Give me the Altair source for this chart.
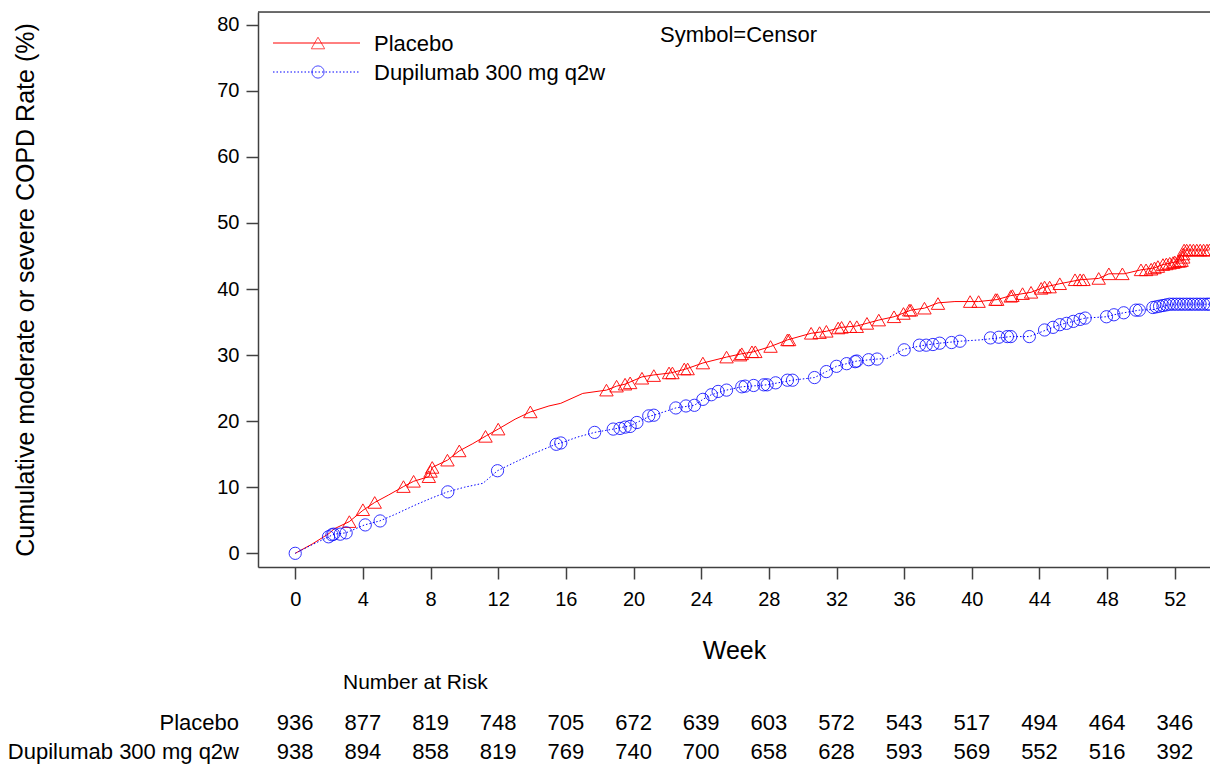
import altair as alt
import pandas as pd

# Kaplan-Meier style cumulative event curves (week, cumulative rate %)
placebo_weeks = [0, 1.0, 2.0, 2.3, 3.2, 4.0, 4.7, 5.5, 6.4, 7.0, 7.9, 8.1, 9.0, 9.7,
                 10.5, 11.3, 12.0, 13.0, 13.9, 15.0, 15.7, 17.0, 18.4, 19.0, 19.5,
                 20.5, 21.2, 22.2, 23.1, 24.1, 25.5, 26.4, 27.1, 28.1, 29.1, 30.5,
                 31.4, 32.3, 33.2, 34.5, 35.4, 36.4, 37.2, 38.0, 39.0, 40.4, 41.5,
                 42.3, 43.5, 44.3, 45.2, 46.4, 47.5, 48.1, 49.0, 50.0, 50.8, 51.3,
                 51.7, 52.2, 52.5, 52.55, 54.05]
placebo_rate = [0, 1.4, 3.0, 3.7, 4.8, 6.5, 7.7, 8.8, 10.1, 10.9, 11.6, 13.0, 14.1, 15.5,
                16.6, 17.8, 18.8, 20.3, 21.4, 22.3, 22.7, 24.2, 24.7, 25.3, 25.6,
                26.7, 27.0, 27.3, 27.9, 28.8, 29.7, 30.2, 30.5, 31.3, 32.3, 33.3,
                33.6, 34.2, 34.4, 35.3, 35.8, 36.8, 37.1, 37.9, 38.1, 38.1, 38.4,
                39.0, 39.5, 40.3, 40.8, 41.4, 41.6, 42.3, 42.3, 42.9, 43.2, 43.7,
                43.9, 44.2, 44.3, 45.9, 45.9]

dupi_weeks = [0, 1.0, 1.97, 2.3, 3.0, 4.1, 5.0, 6.0, 7.0, 8.0, 9.0, 10.0, 11.1, 11.96,
              13.0, 14.0, 15.4, 15.7, 16.7, 17.7, 18.8, 19.8, 20.2, 21.0, 21.2, 22.5,
              23.6, 24.1, 24.6, 25.5, 26.4, 27.9, 29.4, 30.7, 31.4, 32.0, 32.6, 33.2,
              34.4, 35.0, 36.0, 37.2, 38.1, 39.3, 40.5, 41.6, 42.3, 43.4, 44.4, 45.2,
              46.0, 46.7, 47.96, 48.4, 48.98, 49.9, 50.8, 51.2, 51.6, 52.0, 54.05]
dupi_rate = [0, 1.3, 2.5, 2.9, 3.1, 4.3, 4.9, 6.0, 7.2, 8.3, 9.3, 10.0, 10.6, 12.5,
             13.8, 15.0, 16.5, 16.7, 17.6, 18.3, 18.8, 19.3, 19.8, 20.8, 20.9, 22.0,
             22.4, 23.3, 24.0, 24.7, 25.2, 25.5, 26.2, 26.6, 27.5, 28.3, 28.7, 29.1,
             29.4, 29.5, 30.9, 31.5, 31.8, 32.1, 32.3, 32.6, 32.8, 32.8, 33.8, 34.6,
             35.1, 35.6, 35.8, 36.1, 36.4, 36.8, 36.9, 37.3, 37.6, 37.7, 37.7]

# Censored observations
placebo_cens_weeks = [3.2, 4.0, 4.7, 6.4, 7.0, 7.9, 8.0, 8.1, 9.0, 9.7, 11.25, 12.0, 13.9,
                      18.4, 19.0, 19.5, 19.8, 20.5, 21.2, 22.1, 22.3, 23.0, 23.2, 24.1,
                      25.5, 26.3, 26.4, 27.0, 27.2, 28.1, 29.1, 29.2, 30.5, 31.0, 31.4,
                      32.1, 32.3, 32.8, 33.2, 33.8, 34.5, 35.4, 35.96, 36.3, 36.4, 37.2,
                      38.0, 39.9, 40.4, 41.4, 41.5, 42.3, 42.4, 43.0, 43.5, 44.1, 44.3,
                      44.6, 45.2, 46.1, 46.4, 46.6, 47.5, 48.1, 48.9, 50.0, 50.3, 50.6,
                      50.8, 51.0, 51.3, 51.5, 51.7, 51.9, 52.0, 52.2, 52.3, 52.4, 52.5,
                      52.5, 52.55, 52.7, 52.9, 53.1, 53.3, 53.5, 53.7, 53.9, 54.05]
placebo_cens_rate = [4.8, 6.6, 7.7, 10.1, 10.9, 11.6, 12.4, 13.0, 14.1, 15.5, 17.7, 18.8, 21.4,
                     24.7, 25.3, 25.6, 25.8, 26.5, 26.9, 27.3, 27.3, 27.9, 27.9, 28.8,
                     29.7, 30.0, 30.2, 30.5, 30.5, 31.3, 32.3, 32.3, 33.3, 33.4, 33.6,
                     34.1, 34.2, 34.3, 34.3, 34.8, 35.3, 35.8, 36.3, 36.8, 36.8, 37.1,
                     37.8, 38.1, 38.1, 38.4, 38.4, 38.9, 39.0, 39.3, 39.5, 40.1, 40.3,
                     40.3, 40.8, 41.4, 41.4, 41.4, 41.6, 42.3, 42.3, 42.9, 42.9, 43.0,
                     43.2, 43.4, 43.7, 43.8, 43.9, 44.0, 44.1, 44.2, 44.2, 44.3, 44.8,
                     45.3, 45.9, 45.9, 45.9, 45.9, 45.9, 45.9, 45.9, 45.9, 45.9]

dupi_cens_weeks = [0, 1.97, 2.17, 2.27, 2.66, 3.01, 4.14, 5.02, 9.02, 11.96, 15.43, 15.7,
                   17.7, 18.8, 19.2, 19.5, 19.8, 20.2, 20.9, 21.2, 22.5, 23.1, 23.6, 24.1,
                   24.6, 25.0, 25.5, 26.4, 26.6, 27.1, 27.7, 27.9, 28.4, 29.1, 29.4, 30.7,
                   31.4, 32.0, 32.6, 33.1, 33.2, 33.9, 34.4, 36.0, 36.9, 37.3, 37.7, 38.1,
                   38.8, 39.3, 41.1, 41.6, 42.1, 42.3, 43.4, 44.3, 44.8, 45.2, 45.6, 46.0,
                   46.4, 46.7, 47.96, 48.4, 48.98, 49.7, 49.9, 50.7, 50.9, 51.1, 51.3,
                   51.5, 51.7, 51.9, 52.1, 52.3, 52.5, 52.7, 52.9, 53.1, 53.3, 53.5, 53.7,
                   53.9, 54.05]
dupi_cens_rate = [0, 2.5, 2.8, 2.9, 2.9, 3.1, 4.3, 4.9, 9.3, 12.5, 16.5, 16.7,
                  18.3, 18.8, 18.9, 19.1, 19.2, 19.8, 20.8, 20.9, 22.0, 22.3, 22.4, 23.3,
                  24.0, 24.5, 24.7, 25.2, 25.3, 25.4, 25.5, 25.5, 25.8, 26.2, 26.2, 26.6,
                  27.5, 28.3, 28.7, 29.0, 29.1, 29.3, 29.4, 30.8, 31.5, 31.5, 31.6, 31.8,
                  31.9, 32.1, 32.6, 32.7, 32.8, 32.8, 32.8, 33.8, 34.2, 34.6, 34.8, 35.1,
                  35.4, 35.6, 35.8, 36.1, 36.4, 36.8, 36.8, 37.2, 37.3, 37.4, 37.5,
                  37.6, 37.7, 37.7, 37.7, 37.7, 37.7, 37.7, 37.7, 37.7, 37.7, 37.7, 37.7,
                  37.7, 37.7]

# Number at risk table
risk_weeks = [0, 4, 8, 12, 16, 20, 24, 28, 32, 36, 40, 44, 48, 52]
placebo_risk = [936, 877, 819, 748, 705, 672, 639, 603, 572, 543, 517, 494, 464, 346]
dupi_risk = [938, 894, 858, 819, 769, 740, 700, 658, 628, 593, 569, 552, 516, 392]

group_names = ["Placebo", "Dupilumab 300 mg q2w"]
week_ticks = list(range(0, 53, 4))
rate_ticks = list(range(0, 81, 10))

RED = "#ff0000"
BLUE = "#0000ff"
FONT = "Liberation Sans"
W, H = 952, 555

x_scale = alt.Scale(domain=[-2.2, 54.08], nice=False, zero=False)
y_scale = alt.Scale(domain=[-2.07, 81.92], nice=False, zero=False)

x_axis = alt.Axis(values=week_ticks, tickSize=12, labelFontSize=20, labelPadding=10,
                  labelFont=FONT, labelColor="black", domainColor="#404040",
                  tickColor="#404040", domainWidth=1.5, tickWidth=1.5, grid=False,
                  title="Week", titleFont=FONT, titleFontSize=25, titleFontWeight="normal",
                  titleColor="black", titleX=W / 2, titleY=83, titleBaseline="middle",
                  labelFlush=False)
y_axis = alt.Axis(values=rate_ticks, tickSize=12, labelFontSize=20, labelPadding=7,
                  labelFont=FONT, labelColor="black", domainColor="#404040",
                  tickColor="#404040", domainWidth=1.5, tickWidth=1.5, grid=False,
                  title="Cumulative moderate or severe COPD Rate (%)", titleFont=FONT,
                  titleFontSize=25, titleFontWeight="normal", titleColor="black",
                  titleX=-233, titleY=H / 2, titleAngle=270, titleBaseline="middle",
                  titleAlign="center", labelFlush=False)

curves = pd.concat([
    pd.DataFrame({"week": placebo_weeks, "rate": placebo_rate, "group": group_names[0]}),
    pd.DataFrame({"week": dupi_weeks, "rate": dupi_rate, "group": group_names[1]}),
])
placebo_cens = pd.DataFrame({"week": placebo_cens_weeks, "rate": placebo_cens_rate})
dupi_cens = pd.DataFrame({"week": dupi_cens_weeks, "rate": dupi_cens_rate})

base_x = alt.X("week:Q", scale=x_scale, axis=x_axis)
base_y = alt.Y("rate:Q", scale=y_scale, axis=y_axis)

placebo_line = alt.Chart(curves[curves.group == group_names[0]]).mark_line(
    color=RED, strokeWidth=1, clip=True
).encode(x=base_x, y=base_y)

dupi_line = alt.Chart(curves[curves.group == group_names[1]]).mark_line(
    color=BLUE, strokeWidth=1, strokeDash=[1.5, 2], clip=True
).encode(x="week:Q", y="rate:Q")

placebo_pts = alt.Chart(placebo_cens).mark_point(
    shape="triangle-up", size=180, color=RED, strokeWidth=1, opacity=0.9, filled=False, clip=True
).encode(x="week:Q", y="rate:Q")

dupi_pts = alt.Chart(dupi_cens).mark_point(
    shape="circle", size=150, color=BLUE, strokeWidth=1, opacity=0.8, filled=False, clip=True
).encode(x="week:Q", y="rate:Q")

one = pd.DataFrame({"k": [0]})

top_border = alt.Chart(one).mark_rule(color="#404040", strokeWidth=1.5).encode(
    x=alt.value(0), x2=alt.value(W), y=alt.value(0)
)

# Legend (top-left inside the plot area)
leg_rows = pd.DataFrame({"label": group_names, "row": [0, 1]})
leg_red_line = alt.Chart(one).mark_rule(color=RED, strokeWidth=1).encode(
    x=alt.value(15), x2=alt.value(102), y=alt.value(31)
)
leg_blue_line = alt.Chart(one).mark_rule(color=BLUE, strokeWidth=1, strokeDash=[1.5, 2]).encode(
    x=alt.value(15), x2=alt.value(102), y=alt.value(60)
)
leg_tri = alt.Chart(one).mark_point(shape="triangle-up", size=180, color=RED, strokeWidth=1,
                                    filled=False).encode(x=alt.value(60), y=alt.value(31))
leg_circ = alt.Chart(one).mark_point(shape="circle", size=150, color=BLUE, strokeWidth=1,
                                     filled=False).encode(x=alt.value(60), y=alt.value(60))
leg_text_p = alt.Chart(pd.DataFrame({"t": [group_names[0]]})).mark_text(
    align="left", baseline="middle", font=FONT, fontSize=22, color="black"
).encode(text="t:N", x=alt.value(116), y=alt.value(32))
leg_text_d = alt.Chart(pd.DataFrame({"t": [group_names[1]]})).mark_text(
    align="left", baseline="middle", font=FONT, fontSize=22, color="black"
).encode(text="t:N", x=alt.value(116), y=alt.value(61))

censor_note = alt.Chart(pd.DataFrame({"t": ["Symbol=Censor"]})).mark_text(
    align="left", baseline="middle", font=FONT, fontSize=22, color="black"
).encode(text="t:N", x=alt.value(402), y=alt.value(23))

# Number at risk table below the axis
risk_title = alt.Chart(pd.DataFrame({"t": ["Number at Risk"]})).mark_text(
    align="left", baseline="middle", font=FONT, fontSize=21, color="black"
).encode(text="t:N", x=alt.value(85), y=alt.value(671))

row_label_p = alt.Chart(pd.DataFrame({"t": [group_names[0]]})).mark_text(
    align="right", baseline="middle", font=FONT, fontSize=22, color="black"
).encode(text="t:N", x=alt.value(-19), y=alt.value(711))
row_label_d = alt.Chart(pd.DataFrame({"t": [group_names[1]]})).mark_text(
    align="right", baseline="middle", font=FONT, fontSize=22, color="black"
).encode(text="t:N", x=alt.value(-19), y=alt.value(740))

risk_p = alt.Chart(pd.DataFrame({"week": risk_weeks, "n": placebo_risk})).mark_text(
    align="center", baseline="middle", font=FONT, fontSize=22, color="black"
).encode(x="week:Q", text="n:Q", y=alt.value(711))
risk_d = alt.Chart(pd.DataFrame({"week": risk_weeks, "n": dupi_risk})).mark_text(
    align="center", baseline="middle", font=FONT, fontSize=22, color="black"
).encode(x="week:Q", text="n:Q", y=alt.value(740))

chart = alt.layer(
    placebo_line, dupi_line, placebo_pts, dupi_pts, top_border,
    leg_red_line, leg_blue_line, leg_tri, leg_circ, leg_text_p, leg_text_d,
    censor_note, risk_title, row_label_p, row_label_d, risk_p, risk_d,
).properties(
    width=W, height=H,
    autosize=alt.AutoSizeParams(type="none"),
    padding={"left": 258, "top": 12, "right": 0, "bottom": 197},
).configure_view(stroke="transparent").configure(background="white")

chart.save("out.html", embed_options={"renderer": "svg", "actions": False})
